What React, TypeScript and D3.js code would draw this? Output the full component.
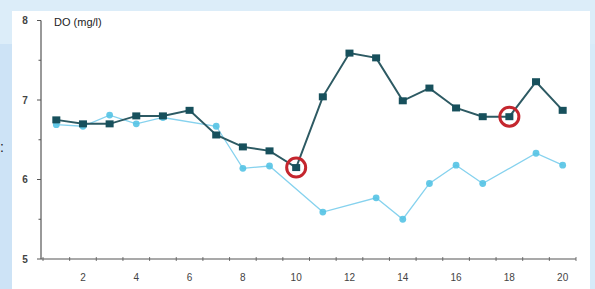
import * as d3 from "d3";

const days = d3.range(1, 21);
const darkValues = [6.75, 6.7, 6.7, 6.8, 6.8, 6.87, 6.56, 6.41, 6.36, 6.15, 7.04, 7.59, 7.53, 6.99, 7.15, 6.9, 6.79, 6.79, 7.23, 6.87];
const lightValues: (number | null)[] = [6.69, 6.67, 6.81, 6.7, 6.78, null, 6.67, 6.14, 6.17, null, 5.59, null, 5.77, 5.5, 5.95, 6.18, 5.95, null, 6.33, 6.18];
const highlighted = [10, 18];
const yTicks = [5, 6, 7, 8];
const yMinor = [5.5, 6.5, 7.5];
const xLabels = [2, 4, 6, 8, 10, 12, 14, 16, 18, 20];

const W = 595;
const H = 289;
const DARK = "#17505c";
const LIGHT = "#55c3e4";

export default function App() {
  const x = d3.scaleBand<number>().domain(days).range([43, 576]);
  const cx = (d: number) => (x(d) ?? 0) + x.bandwidth() / 2;
  const y = d3.scaleLinear().domain([5, 8]).range([259, 20.5]);

  const darkPts = days.map((d, i) => ({ d, v: darkValues[i] }));
  const lightPts = days
    .map((d, i) => ({ d, v: lightValues[i] }))
    .filter((p) => p.v !== null) as { d: number; v: number }[];

  const line = d3
    .line<{ d: number; v: number }>()
    .x((p) => cx(p.d))
    .y((p) => y(p.v));

  const edges = d3.range(0, 21).map((i) => 43 + i * x.bandwidth());

  return (
    <svg
      width={W}
      height={H}
      style={{ position: "absolute", left: 0, top: 0 }}
      fontFamily="Liberation Sans, Arial, sans-serif"
    >
      <rect width={W} height={H} fill="#d7ebf9" />
      <rect x={0} y={0} width={W} height={44} fill="#dcedf9" />
      <rect x={0} y={44} width={12} height={H - 44} fill="#cde3f6" />
      <rect x={12} y={11} width={578} height={H - 11} fill="#ffffff" />
      <text x={0} y={152} fontSize={14} fill="#222">:</text>

      {/* y axis */}
      <line x1={41} x2={41} y1={y(8)} y2={y(5)} stroke="#555" strokeWidth={1.2} />
      {yTicks.map((t) => (
        <g key={t}>
          <line x1={37} x2={41} y1={y(t)} y2={y(t)} stroke="#555" />
          <text x={25} y={y(t)} dy="0.35em" textAnchor="middle" fontSize={10} fontWeight="bold" fill="#444">
            {t}
          </text>
        </g>
      ))}
      {yMinor.map((t) => (
        <line key={t} x1={38.5} x2={41} y1={y(t)} y2={y(t)} stroke="#555" />
      ))}
      <text x={54} y={26} fontSize={11} fill="#222">DO (mg/l)</text>

      {/* x axis */}
      <line x1={41} x2={576} y1={259} y2={259} stroke="#555" strokeWidth={1.2} />
      {edges.map((e, i) => (
        <line key={i} x1={e} x2={e} y1={257} y2={261} stroke="#555" strokeWidth={0.8} />
      ))}
      {xLabels.map((d) => (
        <text key={d} x={cx(d)} y={281} textAnchor="middle" fontSize={10} fill="#444">
          {d}
        </text>
      ))}

      {/* light series */}
      <path d={line(lightPts) ?? ""} fill="none" stroke="#86d2ee" strokeWidth={1.3} />
      {lightPts.map((p) => (
        <circle key={p.d} cx={cx(p.d)} cy={y(p.v)} r={3.4} fill={LIGHT} opacity={0.9} />
      ))}

      {/* dark series */}
      <path d={line(darkPts) ?? ""} fill="none" stroke="#2d5a63" strokeWidth={2} />
      {darkPts.map((p) => (
        <rect key={p.d} x={cx(p.d) - 4} y={y(p.v) - 3.5} width={8} height={7} fill={DARK} />
      ))}

      {/* highlights */}
      {highlighted.map((d) => (
        <g key={d}>
          <circle cx={cx(d)} cy={y(darkValues[d - 1])} r={9.5} fill="none" stroke="#c4262e" strokeWidth={3} />
        </g>
      ))}
    </svg>
  );
}
